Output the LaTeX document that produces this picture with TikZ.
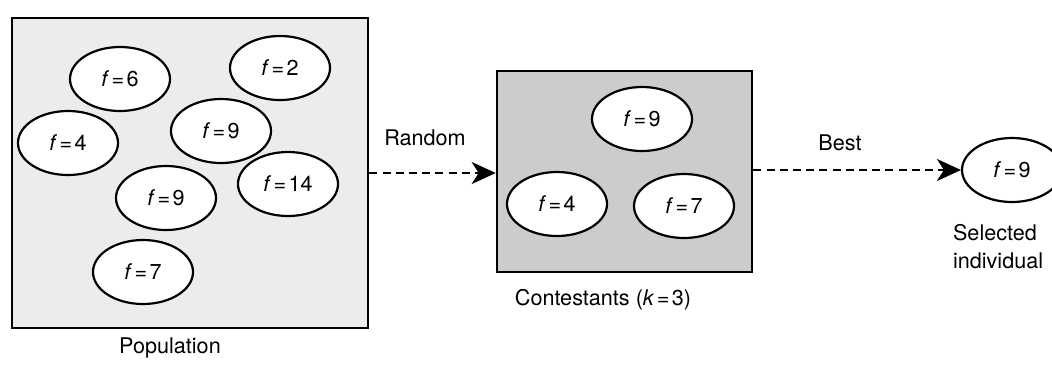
\documentclass[tikz,border=0pt]{standalone}
\usepackage{fontspec}
\setmainfont{TeX Gyre Heros}
\usetikzlibrary{arrows.meta,positioning,shapes.geometric}

\begin{document}
\begin{tikzpicture}[x=0.5pt,y=-0.5pt,
		indiv/.style={draw, ellipse, line width=1.1pt, fill=white, minimum width=50pt, minimum height=32pt, inner sep=0pt, font=\fontsize{10.8}{12}\selectfont},
		pool/.style={draw, line width=1.3pt, inner sep=0pt},
		pick/.style={line width=1.4pt, dash pattern=on 4pt off 2.6pt, -{Stealth[length=12pt,width=11pt,inset=3.5pt]}},
		caption/.style={font=\fontsize{10.8}{14}\selectfont}]
	\useasboundingbox (0,0) rectangle (1052,365);
	\newcommand\fv[1]{\textit{f}\kern1.2pt=\kern1.2pt#1}

	% population
	\node[pool, fill=gray!15, minimum width=178pt, minimum height=155pt] at (190,173) (pop) {};
	\node[indiv] at (120,79) (p1) {\fv{6}};
	\node[indiv] at (280,68) (p2) {\fv{2}};
	\node[indiv] at (68,143) (p3) {\fv{4}};
	\node[indiv] at (221,131) (p4) {\fv{9}};
	\node[indiv] at (288,184) (p5) {\fv{14}};
	\node[indiv] at (166,198) (p6) {\fv{9}};
	\node[indiv] at (143,272) (p7) {\fv{7}};
	\node[caption] at (170,348) (popl) {Population};

	% contestants
	\node[pool, fill=gray!40, minimum width=127.5pt, minimum height=100.5pt] at (624.5,171.5) (con) {};
	\node[indiv] at (642,119) (c1) {\fv{9}};
	\node[indiv] at (557,204) (c2) {\fv{4}};
	\node[indiv] at (684,206) (c3) {\fv{7}};
	\node[caption] at (603,300) (conl) {Contestants (\textit{k}\kern1.2pt=\kern1.2pt3)};

	% winner
	\node[indiv] at (1012,170) (sel) {\fv{9}};
	\node[caption, align=left, anchor=north west] at (946,217) (sell) {Selected\\individual};

	\draw[pick] (pop.east |- 0,173) -- (con.west |- 0,173);
	\draw[pick] (con.east |- 0,170) -- (sel.west);
	\node[caption] at (425,138) (rnd) {Random};
	\node[caption] at (840,143) (best) {Best};
\end{tikzpicture}
\end{document}
